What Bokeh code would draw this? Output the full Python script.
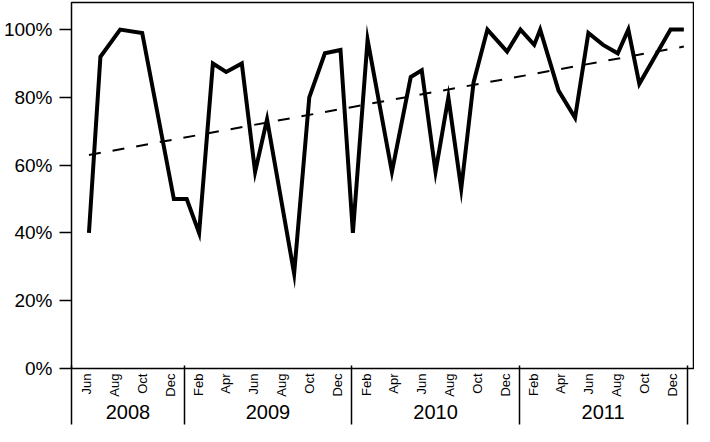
import math
import pandas as pd
from bokeh.plotting import figure
from bokeh.models import FixedTicker, LinearAxis, Range1d
from bokeh.embed import file_html
from bokeh.resources import INLINE

# ---- data ----
dates = ["2008-06-07", "2008-07-02", "2008-08-14", "2008-10-01", "2008-12-09",
         "2009-01-06", "2009-02-02", "2009-03-04", "2009-04-02", "2009-05-06",
         "2009-06-04", "2009-06-30", "2009-08-28", "2009-09-30", "2009-11-03",
         "2009-12-07", "2010-01-03", "2010-02-04", "2010-03-29", "2010-05-09",
         "2010-06-02", "2010-07-02", "2010-07-30", "2010-08-27", "2010-09-23",
         "2010-10-23", "2010-12-05", "2011-01-03", "2011-02-02", "2011-02-15",
         "2011-03-27", "2011-05-02", "2011-05-31", "2011-07-02", "2011-08-03",
         "2011-08-26", "2011-09-19", "2011-11-26", "2011-12-25"]
values = [40, 92, 100, 99, 50,
          50, 40, 90, 87.5, 90,
          58, 73.5, 28, 80, 93,
          94, 40, 97, 58, 86,
          88, 58, 80, 53, 84.5,
          100, 93.5, 100, 95.5, 100,
          82, 74, 99, 95.5, 93,
          100, 84, 100, 100]

trend_dates = ["2008-06-07", "2011-12-25"]
trend_values = [63, 95]

month_tick_dates = ["2008-06-01", "2008-08-01", "2008-10-01", "2008-12-01",
                    "2009-02-01", "2009-04-01", "2009-06-01", "2009-08-01", "2009-10-01", "2009-12-01",
                    "2010-02-01", "2010-04-01", "2010-06-01", "2010-08-01", "2010-10-01", "2010-12-01",
                    "2011-02-01", "2011-04-01", "2011-06-01", "2011-08-01", "2011-10-01", "2011-12-01"]
month_tick_labels = ["Jun", "Aug", "Oct", "Dec",
                     "Feb", "Apr", "Jun", "Aug", "Oct", "Dec",
                     "Feb", "Apr", "Jun", "Aug", "Oct", "Dec",
                     "Feb", "Apr", "Jun", "Aug", "Oct", "Dec"]
year_tick_dates = ["2008-08-31", "2009-07-02", "2010-07-02", "2011-07-02"]
year_tick_labels = ["2008", "2009", "2010", "2011"]
year_bound_dates = ["2008-04-30", "2009-01-01", "2010-01-01", "2011-01-01", "2012-01-01"]
x_start, x_end = "2008-04-30", "2012-01-15"
y_ticks = [0, 20, 40, 60, 80, 100]
y_tick_labels = ["0%", "20%", "40%", "60%", "80%", "100%"]


def ms(s):
    return int(pd.Timestamp(s).value // 10**6)


FONT = "Liberation Sans"

p = figure(width=694, height=426, output_backend="svg", toolbar_location=None,
           x_axis_type=None, y_axis_type=None,
           x_range=Range1d(ms(x_start), ms(x_end)), y_range=Range1d(0, 108),
           min_border_left=69, min_border_right=1, min_border_top=2, min_border_bottom=58)
p.outline_line_color = "black"
p.outline_line_width = 1.5
p.background_fill_color = "white"
p.border_fill_color = "white"

# y axis
yax = LinearAxis(ticker=FixedTicker(ticks=y_ticks),
                 major_label_overrides={t: l for t, l in zip(y_ticks, y_tick_labels)},
                 major_tick_out=12, major_tick_in=0, major_tick_line_width=1.5,
                 minor_tick_out=0, minor_tick_in=0,
                 axis_line_color=None, major_label_standoff=7,
                 major_label_text_font=FONT, major_label_text_font_size="19px",
                 major_label_text_color="black")
p.add_layout(yax, "left")

# month axis
month_ms = [ms(d) for d in month_tick_dates]
max_ = LinearAxis(ticker=FixedTicker(ticks=month_ms),
                  major_label_overrides={t: l for t, l in zip(month_ms, month_tick_labels)},
                  major_label_orientation=math.pi / 2,
                  major_tick_out=0, major_tick_in=0, minor_tick_out=0, minor_tick_in=0,
                  axis_line_color=None, major_label_standoff=5,
                  major_label_text_font=FONT, major_label_text_font_size="13px",
                  major_label_text_color="black")
p.add_layout(max_, "below")

# year axis
year_ms = [ms(d) for d in year_tick_dates]
yrax = LinearAxis(ticker=FixedTicker(ticks=year_ms),
                  major_label_overrides={t: l for t, l in zip(year_ms, year_tick_labels)},
                  major_tick_out=0, major_tick_in=0, minor_tick_out=0, minor_tick_in=0,
                  axis_line_color=None, major_label_standoff=5,
                  major_label_text_font=FONT, major_label_text_font_size="20px",
                  major_label_text_color="black")
p.add_layout(yrax, "below")

# separator axis (year boundaries drawn as minor ticks reaching up to the frame)
bound_ms = [ms(d) for d in year_bound_dates]
sep = LinearAxis(ticker=FixedTicker(ticks=[], minor_ticks=bound_ms),
                 major_tick_out=0, major_tick_in=0,
                 minor_tick_in=56, minor_tick_out=3,
                 minor_tick_line_width=1.5, minor_tick_line_color="black",
                 axis_line_color=None, major_label_standoff=0)
p.add_layout(sep, "below")

x = [ms(d) for d in dates]
p.line(x, values, line_width=4, line_color="black", line_join="miter")
p.line([ms(d) for d in trend_dates], trend_values, line_width=2, line_color="black",
       line_dash="12 12")

open("out.html", "w").write(file_html(p, INLINE))
